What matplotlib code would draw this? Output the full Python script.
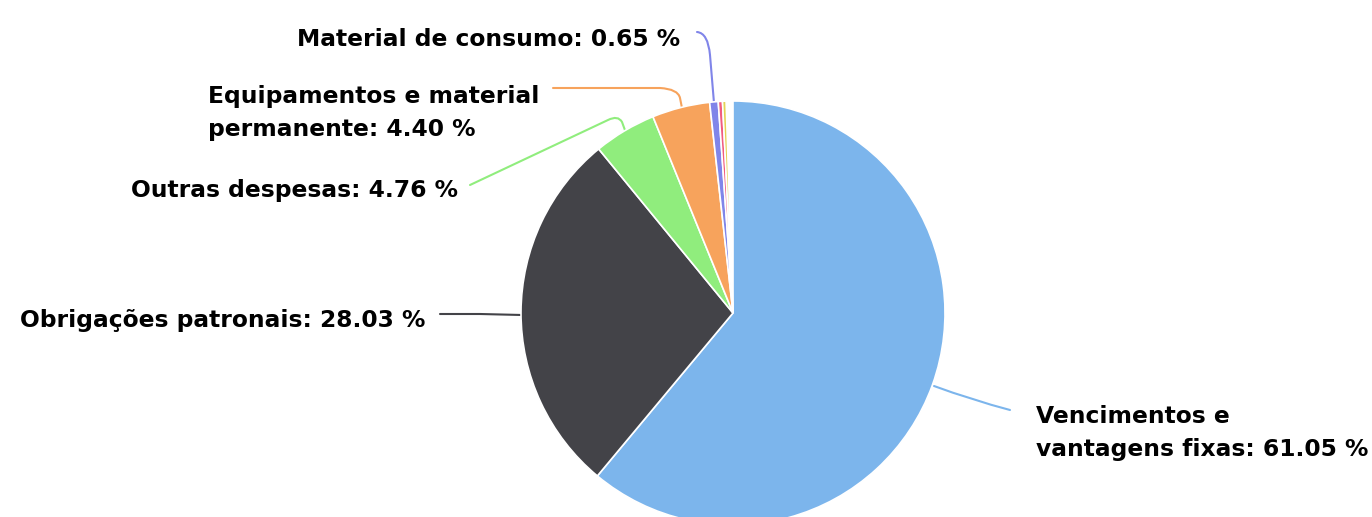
import matplotlib
matplotlib.use("Agg")
import matplotlib.pyplot as plt
from matplotlib.path import Path
from matplotlib.patches import PathPatch

categories = ["Vencimentos e\nvantagens fixas", "Obrigações patronais", "Outras despesas",
              "Equipamentos e material\npermanente", "Material de consumo", "Outros 1", "Outros 2"]
values = [61.05, 28.03, 4.76, 4.40, 0.65, 0.32, 0.27]
colors = ["#7cb5ec", "#434348", "#90ed7d", "#f7a35c", "#8085e9", "#f15c80", "#e4d354"]

W, H = 1372, 517
fig = plt.figure(figsize=(W / 100, H / 100), dpi=100)
ax = fig.add_axes([0, 0, 1, 1])

cx, cy, r = 733, H - 313, 212
ax.pie([v / 100 for v in values], colors=colors, startangle=90, counterclock=False,
       normalize=False, center=(cx, cy), radius=r, frame=True,
       wedgeprops=dict(edgecolor="white", linewidth=1.2))
ax.set_xlim(0, W)
ax.set_ylim(0, H)
ax.set_aspect("equal")
ax.axis("off")


def Y(y):
    return H - y


font = dict(fontsize=16.8, fontweight="bold", color="#000000", family="DejaVu Sans")

# connector paths: list of (code, point) in pixel coords y-down
M, L, C = Path.MOVETO, Path.LINETO, Path.CURVE3
labels_cfg = {
    0: dict(xy=(1036, 433), ha="left",
            path=[(M, (934, 386)), (C, (972, 400)), (C, (1010, 410))]),
    1: dict(xy=(425, 321), ha="right",
            path=[(M, (440, 314)), (L, (480, 314)), (L, (522, 315))]),
    2: dict(xy=(458, 190), ha="right",
            path=[(M, (470, 185)), (L, (608, 120)), (C, (618, 115)), (C, (622, 122)), (L, (626, 133))]),
    3: dict(xy=(208, 113), ha="left",
            path=[(M, (553, 88)), (L, (660, 88)), (C, (678, 89)), (C, (680, 98)), (L, (682, 108))]),
    4: dict(xy=(680, 40), ha="right",
            path=[(M, (697, 32)), (C, (708, 33)), (C, (710, 55)), (L, (714, 103))]),
}

for i, cfg in labels_cfg.items():
    txt = categories[i] + ": " + f"{values[i]:.2f} %"
    ax.text(cfg["xy"][0], Y(cfg["xy"][1]), txt, ha=cfg["ha"], va="center",
            linespacing=1.58, **font)
    codes = [c for c, _ in cfg["path"]]
    verts = [(p[0], Y(p[1])) for _, p in cfg["path"]]
    ax.add_patch(PathPatch(Path(verts, codes), facecolor="none", edgecolor=colors[i],
                           lw=1.5, zorder=0, capstyle="round"))

fig.savefig("out.png", dpi=100, facecolor="white")
